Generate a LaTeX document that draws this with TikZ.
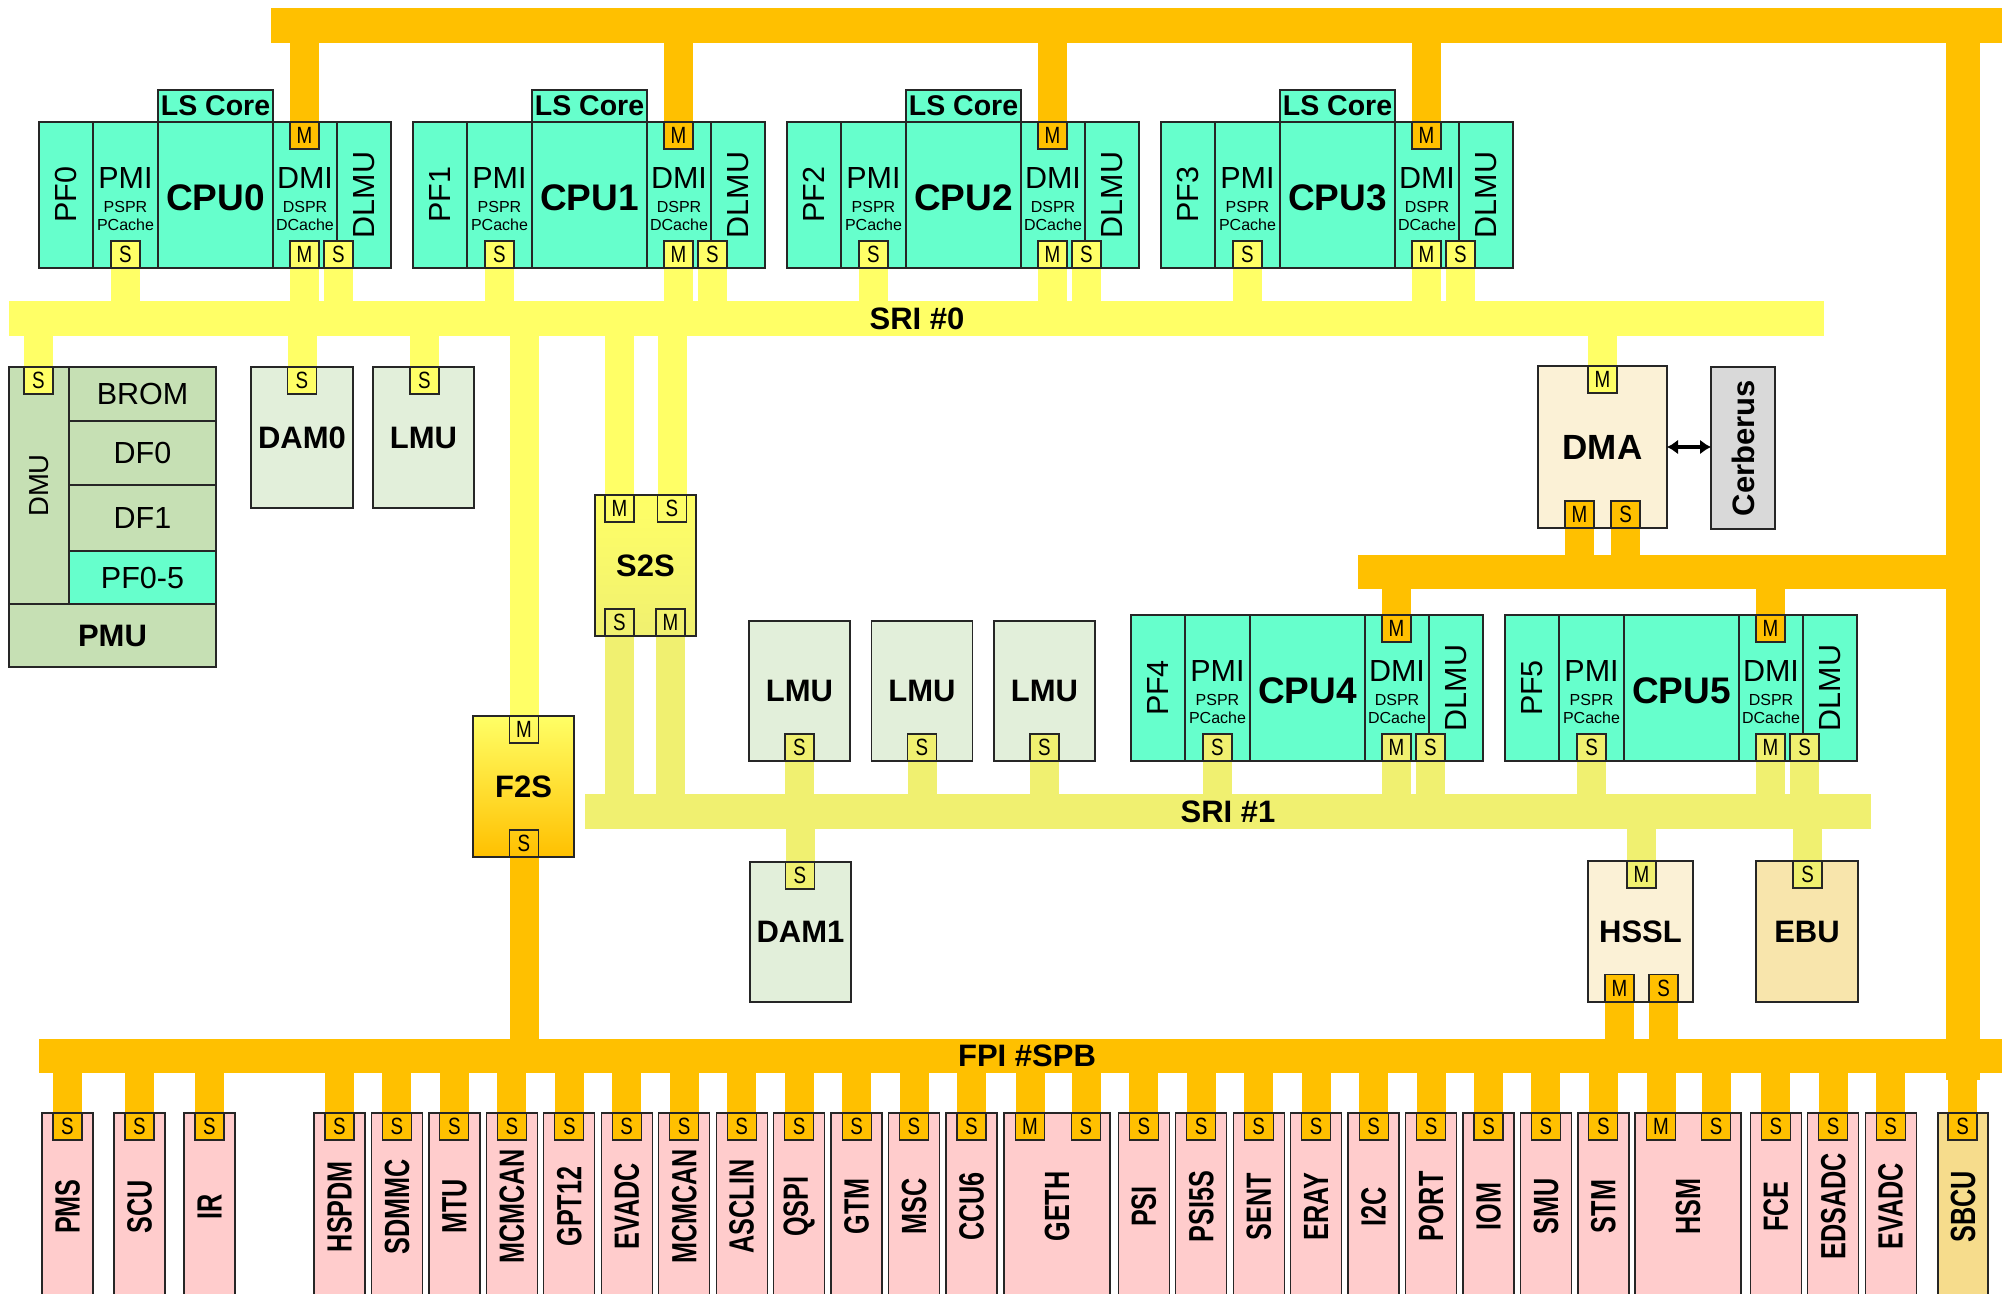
\documentclass[tikz,border=0pt]{standalone}
\usepackage{fontspec}
\setmainfont{Liberation Sans}
\newfontfamily\narrowsf[FakeStretch=0.72]{Liberation Sans}
\newfontfamily\portsf[FakeStretch=0.8]{Liberation Sans}
\usetikzlibrary{arrows.meta}
\usetikzlibrary{backgrounds}

\definecolor{turq}{HTML}{66FFCC}
\definecolor{dmugreen}{HTML}{C6E0B4}
\definecolor{memgreen}{HTML}{E2EFDA}
\definecolor{sribright}{HTML}{FFFF66}
\definecolor{sridull}{HTML}{F0F070}
\definecolor{fpiorange}{HTML}{FFC000}
\definecolor{cream}{HTML}{FBF1D6}
\definecolor{ebutan}{HTML}{F8E5AC}
\definecolor{sbcugold}{HTML}{F6DC8C}
\definecolor{periph}{HTML}{FFCCCC}
\definecolor{cerbgray}{HTML}{D9D9D9}

\newcommand\fnreg{\fontsize{30.5}{34}\selectfont}
\newcommand\fnsmall{\fontsize{16}{18}\selectfont}
\newcommand\fncpu{\fontsize{37}{40}\selectfont\bfseries}
\newcommand\fnls{\fontsize{28.5}{30}\selectfont\bfseries}
\newcommand\fnname{\fontsize{31}{34}\selectfont\bfseries}
\newcommand\fndma{\fontsize{35}{38}\selectfont\bfseries}
\newcommand\fndmu{\fontsize{27.5}{30}\selectfont}
\newcommand\fnper{\narrowsf\fontsize{35}{38}\selectfont\bfseries}
\newcommand\fnport{\portsf\fontsize{23.5}{26}\selectfont}

\tikzset{
  blk/.style={draw=black!85,line width=1.3pt,inner sep=0pt,outer sep=0pt,anchor=north west},
  bus/.style={inner sep=0pt,outer sep=0pt,anchor=north west},
  port/.style={draw=black!85,line width=1.1pt,inner sep=0pt,outer sep=0pt,minimum width=29pt,minimum height=27pt,font=\fnport},
  sstub/.style={draw=sribright,line width=29pt},
  dstub/.style={draw=sridull,line width=29pt},
  ostub/.style={draw=fpiorange,line width=29pt},
  perbox/.style={blk,fill=periph,minimum width=51pt,minimum height=187pt,font=\fnper}
}

\begin{document}
\begin{tikzpicture}[x=1pt,y=-1pt]
\useasboundingbox (0,0) rectangle (2002,1293);
\clip (0,0) rectangle (2002,1293);

% buses
\node[bus,fill=fpiorange,minimum width=1731pt,minimum height=35pt] (topbus) at (271,8) {};
\node[bus,fill=fpiorange,minimum width=34pt,minimum height=1060pt] (rbus) at (1946,20) {};
\node[bus,fill=fpiorange,minimum width=588pt,minimum height=34pt] (dmabus) at (1358,555) {};
\node[bus,fill=sribright,minimum width=1815pt,minimum height=35pt] (sri0) at (9,301) {};
\node[bus,fill=sridull,minimum width=1286pt,minimum height=35pt,font=\fnname] (sri1) at (585,794) {SRI \#1};
\node[bus,fill=fpiorange,minimum width=1963pt,minimum height=34pt] (fpi) at (39,1039) {};
\node[font=\fnname] (sri0t) at (917,318.5) {SRI \#0};
\node[font=\fnname] (fpit) at (1027,1056) {FPI \#SPB};

% CPU blocks
\foreach \k/\X/\Y/\pc in {0/39/122/sribright,1/413/122/sribright,2/787/122/sribright,3/1161/122/sribright,4/1131/615/sridull,5/1505/615/sridull}{
  \node[blk,fill=turq,minimum width=54pt,minimum height=146pt,font=\fnreg] (pf\k) at (\X,\Y) {\rotatebox{90}{PF\k}};
  \node[blk,fill=turq,minimum width=65pt,minimum height=146pt] (pmi\k) at (\X+54,\Y) {};
  \node[blk,fill=turq,minimum width=115pt,minimum height=146pt] (cpu\k) at (\X+119,\Y) {};
  \node[blk,fill=turq,minimum width=64pt,minimum height=146pt] (dmi\k) at (\X+234,\Y) {};
  \node[blk,fill=turq,minimum width=54pt,minimum height=146pt,font=\fnreg] (dlmu\k) at (\X+298,\Y) {\rotatebox{90}{DLMU}};
  \node[anchor=base,font=\fnreg] (pmit\k) at (\X+86.5,\Y+66) {PMI};
  \node[anchor=base,font=\fnsmall] (psprt\k) at (\X+86.5,\Y+90) {PSPR};
  \node[anchor=base,font=\fnsmall] (pcat\k) at (\X+86.5,\Y+108) {PCache};
  \node[anchor=base,font=\fncpu] (cput\k) at (\X+176.5,\Y+88) {CPU\k};
  \node[anchor=base,font=\fnreg] (dmit\k) at (\X+266,\Y+66) {DMI};
  \node[anchor=base,font=\fnsmall] (dsprt\k) at (\X+266,\Y+90) {DSPR};
  \node[anchor=base,font=\fnsmall] (dcat\k) at (\X+266,\Y+108) {DCache};
  \node[port,fill=fpiorange] (mt\k) at (\X+265.5,\Y+13.5) {M};
  \node[port,fill=\pc] (ps\k) at (\X+86.5,\Y+132.5) {S};
  \node[port,fill=\pc] (dm\k) at (\X+265.5,\Y+132.5) {M};
  \node[port,fill=\pc] (ds\k) at (\X+299.5,\Y+132.5) {S};
}
\foreach \k/\X in {0/39,1/413,2/787,3/1161}
  \node[blk,fill=turq,minimum width=115pt,minimum height=32pt,font=\fnls] (ls\k) at (\X+119,90) {LS Core};

% DMU / PMU
\node[blk,fill=dmugreen,minimum width=60pt,minimum height=237pt,font=\fndmu] (dmu) at (9,367) {\rotatebox{90}{DMU}};
\node[blk,fill=dmugreen,minimum width=147pt,minimum height=54pt,font=\fnreg] (brom) at (69,367) {BROM};
\node[blk,fill=dmugreen,minimum width=147pt,minimum height=64pt,font=\fnreg] (df0) at (69,421) {DF0};
\node[blk,fill=dmugreen,minimum width=147pt,minimum height=66pt,font=\fnreg] (df1) at (69,485) {DF1};
\node[blk,fill=turq,minimum width=147pt,minimum height=53pt,font=\fnreg] (pf05) at (69,551) {PF0-5};
\node[blk,fill=dmugreen,minimum width=207pt,minimum height=63pt,font=\fnname] (pmu) at (9,604) {PMU};
\node[port,fill=sribright] (dmus) at (38.5,380.5) {S};

% memories on SRI #0
\node[blk,fill=memgreen,minimum width=102pt,minimum height=141pt,font=\fnname] (dam0) at (251,367) {DAM0};
\node[port,fill=sribright] (dam0s) at (302,380.5) {S};
\node[blk,fill=memgreen,minimum width=101pt,minimum height=141pt,font=\fnname] (lmu0) at (373,367) {LMU};
\node[port,fill=sribright] (lmu0s) at (424.5,380.5) {S};

% bridges
\node[blk,top color=sribright,bottom color=sridull,minimum width=101pt,minimum height=141pt,font=\fnname] (s2s) at (595,495) {S2S};
\node[port] (s2smt) at (619.5,508.5) {M};
\node[port] (s2sst) at (672,508.5) {S};
\node[port] (s2ssb) at (619.5,622.5) {S};
\node[port] (s2smb) at (670.5,622.5) {M};
\node[blk,top color=sribright,bottom color=fpiorange,minimum width=101pt,minimum height=141pt,font=\fnname] (f2s) at (473,716) {F2S};
\node[port] (f2smt) at (524,729.5) {M};
\node[port] (f2ssb) at (524,843.5) {S};

% memories on SRI #1
\foreach \k/\X in {1/749,2/871.5,3/994}{
  \node[blk,fill=memgreen,minimum width=101pt,minimum height=140pt,font=\fnname] (lmu\k) at (\X,621) {LMU};
  \node[port,fill=sridull] (lmu\k s) at (\X+50.5,747.5) {S};
}
\node[blk,fill=memgreen,minimum width=101pt,minimum height=140pt,font=\fnname] (dam1) at (750,862) {DAM1};
\node[port,fill=sridull] (dam1s) at (800,875.5) {S};

% DMA and Cerberus
\node[blk,fill=cream,minimum width=129pt,minimum height=162pt,font=\fndma] (dma) at (1538,366) {DMA};
\node[port,fill=sribright] (dmamt) at (1602.5,379.5) {M};
\node[port,fill=fpiorange] (dmamb) at (1579.5,514.5) {M};
\node[port,fill=fpiorange] (dmasb) at (1625.5,514.5) {S};
\node[blk,fill=cerbgray,minimum width=64pt,minimum height=162pt,font=\fnname] (cerb) at (1711,367) {\rotatebox{90}{Cerberus}};
\draw[{Latex[length=11pt,width=15pt]}-{Latex[length=11pt,width=15pt]},line width=3.5pt] (dma.east) -- (dma.east -| cerb.west);

% HSSL and EBU
\node[blk,fill=cream,minimum width=105pt,minimum height=141pt,font=\fnname] (hssl) at (1588,861) {HSSL};
\node[port,fill=sridull] (hsslmt) at (1641.5,874.5) {M};
\node[port,fill=fpiorange] (hsslmb) at (1619.5,988) {M};
\node[port,fill=fpiorange] (hsslsb) at (1663.5,988) {S};
\node[blk,fill=ebutan,minimum width=102pt,minimum height=141pt,font=\fnname] (ebu) at (1756,861) {EBU};
\node[port,fill=sridull] (ebus) at (1807.5,874.5) {S};

% peripherals on FPI
\foreach \n/\X in {PMS/42,SCU/114,IR/184}{
  \node[perbox] (p\n) at (\X,1113) {\rotatebox{90}{\n}};
  \node[port,fill=fpiorange] (p\n s) at (\X+25.5,1126.5) {S};
}
\foreach \i/\n in {0/HSPDM,1/SDMMC,2/MTU,3/MCMCAN,4/GPT12,5/EVADC,6/MCMCAN,7/ASCLIN,8/QSPI,9/GTM,10/MSC,11/CCU6,14/PSI,15/PSI5S,16/SENT,17/ERAY,18/I2C,19/PORT,20/IOM,21/SMU,22/STM,25/FCE,26/EDSADC,27/EVADC}{
  \node[perbox] (per\i) at (314+57.45*\i,1113) {\rotatebox{90}{\n}};
  \node[port,fill=fpiorange] (per\i s) at (339.5+57.45*\i,1126.5) {S};
}
\node[perbox,minimum width=106pt] (geth) at (1004,1113) {\rotatebox{90}{GETH}};
\node[port,fill=fpiorange] (gethm) at (1030,1126.5) {M};
\node[port,fill=fpiorange] (geths) at (1086,1126.5) {S};
\node[perbox,minimum width=106pt] (hsm) at (1635,1113) {\rotatebox{90}{HSM}};
\node[port,fill=fpiorange] (hsmm) at (1661,1126.5) {M};
\node[port,fill=fpiorange] (hsms) at (1716,1126.5) {S};
\node[perbox,fill=sbcugold,minimum width=50pt] (sbcu) at (1938,1113) {\rotatebox{90}{SBCU}};
\node[port,fill=fpiorange] (sbcus) at (1962.5,1126.5) {S};

% stubs
\begin{pgfonlayer}{background}
\foreach \k in {0,...,3}{
  \draw[ostub] (mt\k.center) -- (mt\k |- topbus.center);
  \draw[sstub] (ps\k.center) -- (ps\k |- sri0.center);
  \draw[sstub] (dm\k.center) -- (dm\k |- sri0.center);
  \draw[sstub] (ds\k.center) -- (ds\k |- sri0.center);
}
\foreach \k in {4,5}{
  \draw[ostub] (mt\k.center) -- (mt\k |- dmabus.center);
  \draw[dstub] (ps\k.center) -- (ps\k |- sri1.center);
  \draw[dstub] (dm\k.center) -- (dm\k |- sri1.center);
  \draw[dstub] (ds\k.center) -- (ds\k |- sri1.center);
}
\foreach \p in {dmus,dam0s,lmu0s,s2smt,s2sst,f2smt,dmamt}
  \draw[sstub] (\p.center) -- (\p |- sri0.center);
\foreach \p in {s2ssb,s2smb,lmu1s,lmu2s,lmu3s,dam1s,hsslmt,ebus}
  \draw[dstub] (\p.center) -- (\p |- sri1.center);
\foreach \p in {dmamb,dmasb}
  \draw[ostub] (\p.center) -- (\p |- dmabus.center);
\foreach \p in {f2ssb,hsslmb,hsslsb,pPMSs,pSCUs,pIRs,gethm,geths,hsmm,hsms,sbcus}
  \draw[ostub] (\p.center) -- (\p |- fpi.center);
\foreach \i in {0,...,11,14,15,...,22,25,26,27}
  \draw[ostub] (per\i s.center) -- (per\i s |- fpi.center);
\end{pgfonlayer}
\end{tikzpicture}
\end{document}
